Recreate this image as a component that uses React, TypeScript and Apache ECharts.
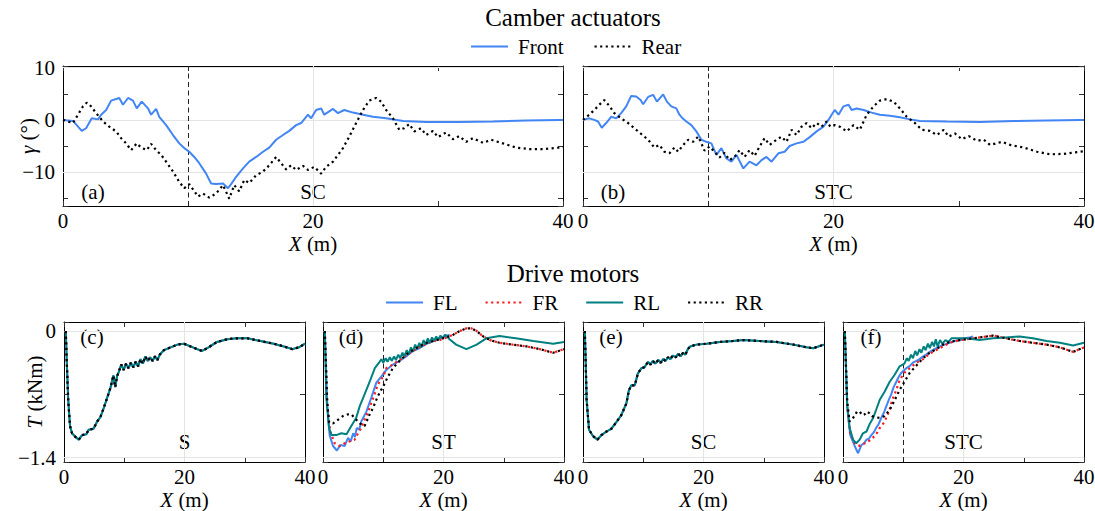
import React, { useEffect, useRef } from 'react';
import * as echarts from 'echarts';

type Pt = [number, number];

// ---------- Camber actuators: camber angle γ (deg) vs. travelled distance X (m)
const camberFrontSC: Pt[] = [
  [0, 0], [0.8, -0.2], [1.5, -2.1], [1.85, -1.6], [2.3, 0.3], [2.8, 0.1], [3.05, 1.0], [3.45, 1.9], [3.85, 3.7],
  [4.25, 4.0], [4.5, 4.2], [4.8, 2.9], [5.2, 4.2], [5.6, 3.7], [5.9, 2.2], [6.3, 3.5], [6.8, 2.2], [7.05, 1.0],
  [7.45, 2.1], [7.7, 0.6], [8.25, -1.0], [8.8, -2.9], [9.3, -4.5], [9.7, -5.4], [10.1, -6.1], [10.5, -7.1],
  [10.9, -8.3], [11.45, -10.3], [11.85, -12.2], [12.25, -12.3], [12.8, -12.2], [13.2, -13.1], [13.45, -12.3],
  [13.85, -10.9], [14.4, -9.3], [14.9, -8.0], [15.45, -7.1], [16.0, -6.1], [16.5, -5.3], [17.05, -3.8],
  [17.6, -2.9], [18.1, -2.1], [18.65, -1.0], [19.05, -0.6], [19.6, 1.0], [19.85, 0.3], [20.25, 1.9], [20.65, 2.2],
  [20.9, 1.0], [21.6, 2.1], [22.0, 1.3], [22.5, 1.9], [23.2, 1.4], [24.0, 1.0], [24.8, 0.6], [25.85, 0.3],
  [27.2, -0.2], [29.05, -0.4], [31.7, -0.4], [34.4, -0.3], [37.05, -0.1], [39.7, 0], [40, 0],
];
const camberRearSC: Pt[] = [
  [0, 0], [0.8, -0.6], [1.2, 1.0], [1.6, 2.6], [1.9, 3.3], [2.25, 2.6], [2.65, 1.3], [3.2, -0.3], [3.7, -1.3],
  [4.25, -2.2], [4.65, -3.5], [5.05, -4.5], [5.45, -5.8], [5.9, -4.5], [6.25, -5.3], [6.7, -5.8], [7.05, -4.6],
  [7.45, -5.8], [7.85, -6.7], [8.25, -8.0], [8.8, -9.9], [9.3, -11.9], [9.7, -13.1], [10.1, -12.3], [10.4, -13.3],
  [10.8, -14.7], [11.2, -14.1], [11.7, -14.9], [12.25, -14.1], [12.8, -12.5], [13.05, -13.8], [13.3, -15.1],
  [13.7, -12.5], [14.1, -13.7], [14.5, -11.5], [14.9, -12.1], [15.45, -10.6], [16.0, -9.9], [16.5, -8.7],
  [17.05, -7.1], [17.45, -8.3], [17.85, -9.5], [18.25, -8.7], [18.65, -9.6], [19.2, -8.8], [19.6, -9.6],
  [20.1, -9.0], [20.65, -10.3], [21.05, -9.0], [21.6, -8.0], [22.0, -6.7], [22.4, -5.4], [22.9, -3.2],
  [23.45, -0.6], [24.0, 1.9], [24.5, 3.7], [25.05, 4.2], [25.45, 3.5], [25.85, 1.9], [26.4, 0.3], [26.9, -1.9],
  [27.3, -1.6], [27.7, -0.8], [28.1, -2.2], [28.65, -1.6], [29.05, -2.9], [29.6, -2.1], [30.0, -3.3],
  [30.65, -2.4], [31.2, -3.7], [31.7, -3.1], [32.25, -4.2], [32.8, -3.5], [33.6, -4.4], [34.25, -3.8],
  [35.2, -4.5], [36.25, -5.3], [37.3, -5.6], [38.4, -5.6], [39.7, -5.3], [40, -5.2],
];
const camberFrontSTC: Pt[] = [
  [0, 0], [0.5, 0.3], [0.9, 0], [1.2, -0.3], [1.5, -1.5], [1.85, -0.6], [2.25, 0.6], [2.65, 0.3], [3.05, 1.3],
  [3.45, 2.6], [3.85, 4.6], [4.25, 4.5], [4.6, 3.8], [4.8, 3.0], [5.2, 4.4], [5.6, 4.8], [5.9, 3.5], [6.4, 4.9],
  [6.7, 3.5], [7.05, 2.6], [7.45, 2.2], [7.7, 1.0], [7.95, 0.3], [8.25, -0.3], [8.65, -1.0], [9.05, -2.2],
  [9.45, -3.8], [9.85, -4.2], [10.25, -4.5], [10.65, -6.7], [11.05, -5.4], [11.45, -7.4], [11.85, -8.0],
  [12.25, -6.7], [12.8, -9.3], [13.3, -8.0], [13.85, -8.7], [14.25, -7.7], [14.65, -7.1], [15.05, -8.0],
  [15.6, -6.4], [16.1, -6.1], [16.5, -5.0], [17.05, -4.5], [17.6, -4.2], [18.1, -3.3], [18.65, -2.2],
  [19.2, -1.3], [19.6, 0], [19.85, 1.0], [20.1, 1.9], [20.4, 1.0], [20.8, 2.6], [21.2, 2.9], [21.45, 1.9],
  [21.85, 2.2], [22.4, 1.9], [23.05, 1.4], [23.7, 1.0], [24.5, 0.8], [25.3, 0.5], [26.1, 0.1], [26.9, -0.2],
  [29.05, -0.3], [31.7, -0.4], [34.4, -0.2], [37.05, -0.1], [39.7, 0], [40, 0],
];
const camberRearSTC: Pt[] = [
  [0, 0], [0.5, 1.0], [0.9, 1.9], [1.3, 2.9], [1.7, 3.8], [2.1, 2.7], [2.5, 1.3], [3.05, 0.3], [3.6, -0.6],
  [4.1, -1.6], [4.65, -2.7], [5.2, -3.8], [5.7, -5.3], [6.1, -4.8], [6.5, -6.1], [6.9, -6.4], [7.3, -5.3],
  [7.6, -6.1], [8.0, -4.8], [8.4, -3.8], [8.8, -4.2], [9.2, -3.2], [9.45, -4.5], [9.7, -5.9], [10.1, -5.1],
  [10.5, -6.1], [10.9, -7.2], [11.3, -6.3], [11.7, -7.7], [12.1, -7.1], [12.5, -5.8], [12.9, -7.1], [13.3, -5.8],
  [13.7, -6.9], [14.1, -5.1], [14.5, -3.5], [14.9, -4.8], [15.45, -3.8], [15.85, -3.2], [16.25, -4.2],
  [16.65, -1.9], [17.05, -2.9], [17.45, -1.3], [17.85, -0.6], [18.25, -1.6], [18.65, -0.6], [19.05, -1.3],
  [19.45, -0.3], [19.75, -1.3], [20.1, -1.0], [20.5, -1.3], [21.05, -2.2], [21.6, -1.0], [22.1, -1.9],
  [22.65, 1.0], [23.2, 2.6], [23.7, 3.7], [24.25, 4.0], [24.8, 3.5], [25.3, 2.2], [25.85, 0.6], [26.5, -0.6],
  [27.05, -1.9], [27.7, -2.1], [28.25, -2.9], [28.8, -1.9], [29.2, -3.2], [29.7, -2.6], [30.25, -3.7],
  [30.8, -3.1], [31.45, -4.0], [32.0, -3.8], [32.5, -4.8], [33.45, -4.2], [34.1, -4.8], [35.2, -5.3],
  [36.25, -6.1], [37.3, -6.6], [38.4, -6.5], [39.7, -6.1], [40, -6.0],
];

// ---------- Drive motors: wheel torque T (kNm) vs. X (m)
// S and SC: the four wheels coincide
const torqueS: Pt[] = [
  [0.3, 0], [0.45, -0.32], [0.7, -0.76], [1.0, -1.05], [1.33, -1.13], [1.9, -1.17], [2.45, -1.2], [3.0, -1.15],
  [3.7, -1.14], [4.1, -1.09], [4.9, -1.08], [5.5, -1.0], [6.05, -0.95], [6.6, -0.85], [7.15, -0.74], [7.7, -0.63],
  [8.2, -0.49], [8.5, -0.62], [8.8, -0.5], [9.1, -0.45], [9.5, -0.37], [9.9, -0.43], [10.3, -0.36], [10.7, -0.41],
  [11.1, -0.35], [11.5, -0.4], [11.9, -0.34], [12.3, -0.39], [12.7, -0.31], [13.1, -0.36], [13.5, -0.28],
  [13.9, -0.33], [14.3, -0.29], [14.7, -0.33], [15.1, -0.28], [15.5, -0.32], [15.9, -0.26], [16.6, -0.21],
  [17.7, -0.18], [18.8, -0.15], [19.9, -0.14], [21.0, -0.17], [22.1, -0.2], [22.9, -0.22], [24.0, -0.18],
  [25.4, -0.12], [27.1, -0.09], [28.7, -0.08], [30.4, -0.08], [32.6, -0.11], [34.8, -0.14], [36.5, -0.17],
  [37.9, -0.2], [39.0, -0.18], [40, -0.14],
];
const torqueSC: Pt[] = [
  [0.3, 0], [0.45, -0.35], [0.6, -0.76], [1.0, -1.09], [1.65, -1.16], [2.4, -1.2], [3.05, -1.15], [3.9, -1.11],
  [4.7, -1.08], [5.5, -1.01], [6.35, -0.93], [7.2, -0.8], [7.6, -0.66], [8.0, -0.6], [8.6, -0.6], [9.1, -0.47],
  [9.7, -0.41], [10.2, -0.4], [10.8, -0.34], [11.2, -0.37], [11.6, -0.33], [12.0, -0.36], [12.5, -0.32],
  [12.9, -0.35], [13.3, -0.31], [13.7, -0.33], [14.1, -0.29], [14.5, -0.31], [14.9, -0.27], [15.4, -0.29],
  [15.8, -0.25], [16.2, -0.28], [16.6, -0.24], [17.0, -0.26], [17.4, -0.2], [17.8, -0.17], [18.8, -0.15],
  [20.5, -0.14], [22.7, -0.12], [24.9, -0.11], [26.6, -0.1], [29.3, -0.11], [32.1, -0.12], [34.9, -0.15],
  [37.1, -0.18], [38.2, -0.19], [40, -0.15],
];
// ST
const torqueST_FL: Pt[] = [
  [0.3, 0], [0.7, -0.81], [1.1, -1.15], [1.66, -1.27], [2.3, -1.32], [2.9, -1.26], [3.6, -1.27], [4.15, -1.18],
  [4.6, -1.22], [5.0, -1.13], [5.3, -1.17], [5.6, -1.07], [6.0, -1.09], [6.35, -1.0], [7.2, -0.89], [8.0, -0.74],
  [8.85, -0.57], [9.7, -0.5], [10.5, -0.43], [11.6, -0.37], [12.7, -0.33], [13.8, -0.28], [14.9, -0.22],
  [16.0, -0.19], [17.2, -0.14], [18.3, -0.11], [19.4, -0.08], [20.2, -0.06], [21.0, -0.04],
];
const torqueST_FR: Pt[] = [
  [0.3, 0], [0.7, -0.81], [1.2, -1.11], [1.94, -1.24], [2.77, -1.27], [3.6, -1.24], [4.4, -1.22], [5.25, -1.2],
  [5.8, -1.13], [6.35, -1.07], [6.9, -0.98], [7.5, -0.89], [8.0, -0.8], [8.6, -0.69], [9.1, -0.59], [10.0, -0.5],
  [10.5, -0.41], [11.6, -0.37], [12.7, -0.32], [13.8, -0.27], [14.9, -0.22], [16.0, -0.18], [17.2, -0.14],
  [18.3, -0.11], [19.4, -0.1], [20.5, -0.07], [21.6, -0.04], [22.7, 0.0], [23.8, 0.03], [24.6, 0.03],
  [25.5, 0.0], [26.6, -0.06], [27.7, -0.1], [29.3, -0.13], [31.5, -0.15], [33.8, -0.17], [36.0, -0.2],
  [38.2, -0.24], [40, -0.2],
];
const torqueST_RL: Pt[] = [
  [0.3, 0], [0.55, -0.74], [1.0, -1.07], [1.4, -1.15], [2.2, -1.15], [3.05, -1.13], [3.9, -1.14], [4.7, -1.05],
  [5.5, -0.96], [6.1, -0.83], [6.9, -0.7], [7.75, -0.56], [8.6, -0.41], [9.3, -0.35], [9.7, -0.31], [10.0, -0.35],
  [10.4, -0.3], [10.7, -0.34], [11.1, -0.29], [11.4, -0.33], [11.8, -0.28], [12.1, -0.32], [12.5, -0.26],
  [12.8, -0.3], [13.2, -0.24], [13.5, -0.28], [13.9, -0.21], [14.2, -0.26], [14.6, -0.18], [14.9, -0.23],
  [15.3, -0.15], [15.6, -0.2], [16.0, -0.13], [16.3, -0.18], [16.7, -0.1], [17.0, -0.15], [17.4, -0.08],
  [17.7, -0.13], [18.1, -0.07], [18.4, -0.11], [18.8, -0.06], [19.1, -0.1], [19.5, -0.05], [19.8, -0.08],
  [20.3, -0.04], [21.0, -0.09], [22.1, -0.15], [23.8, -0.2], [25.5, -0.15], [27.1, -0.08], [29.3, -0.055],
  [32.0, -0.08], [34.9, -0.11], [38.2, -0.14], [40, -0.12],
];
const torqueST_RR: Pt[] = [
  [0.3, 0], [0.7, -0.78], [1.0, -1.01], [1.66, -1.02], [2.5, -0.98], [3.3, -0.94], [4.15, -0.92], [4.7, -0.92],
  [5.25, -0.96], [6.1, -1.02], [6.9, -1.05], [7.75, -0.92], [8.3, -0.85], [9.1, -0.72], [10.0, -0.61],
  [10.8, -0.5], [11.6, -0.41], [12.7, -0.33], [13.8, -0.26], [14.9, -0.21], [16.0, -0.17], [17.2, -0.13],
  [18.3, -0.11], [19.4, -0.09], [20.5, -0.07], [21.6, -0.04], [22.7, 0.0], [23.8, 0.03], [24.6, 0.03],
  [25.5, 0.0], [26.6, -0.06], [27.7, -0.1], [29.3, -0.13], [31.5, -0.15], [33.8, -0.17], [36.0, -0.2],
  [38.2, -0.24], [40, -0.2],
];
// STC
const torqueSTC_FL: Pt[] = [
  [0.3, 0], [0.7, -0.85], [1.2, -1.15], [1.94, -1.27], [2.5, -1.35], [3.05, -1.26], [3.5, -1.24], [3.9, -1.2],
  [4.3, -1.19], [4.7, -1.15], [5.1, -1.12], [5.5, -1.07], [5.9, -1.03], [6.35, -0.96], [6.8, -0.9], [7.2, -0.83],
  [7.6, -0.76], [8.0, -0.7], [8.4, -0.62], [8.85, -0.56], [9.3, -0.5], [9.7, -0.46], [10.5, -0.41], [11.0, -0.39],
  [11.6, -0.35], [12.2, -0.33], [12.7, -0.31], [13.3, -0.28], [13.8, -0.26], [14.4, -0.23], [14.9, -0.21],
  [16.0, -0.17], [16.8, -0.15], [17.7, -0.13], [18.5, -0.11], [19.4, -0.1], [20.2, -0.08], [21.0, -0.07],
  [21.6, -0.06],
];
const torqueSTC_FR: Pt[] = [
  [0.3, 0], [0.7, -0.83], [1.2, -1.13], [1.94, -1.24], [2.77, -1.27], [3.6, -1.24], [4.4, -1.21], [5.25, -1.16],
  [5.7, -1.12], [6.1, -1.07], [6.5, -1.04], [6.9, -1.0], [7.3, -0.94], [7.75, -0.87], [8.0, -0.8], [8.3, -0.74],
  [8.85, -0.65], [9.4, -0.54], [10.2, -0.46], [11.1, -0.41], [12.2, -0.35], [13.3, -0.31], [14.4, -0.25],
  [15.5, -0.21], [16.6, -0.17], [17.7, -0.13], [19.4, -0.1], [21.6, -0.08], [23.8, -0.06], [24.9, -0.05],
  [27.1, -0.08], [29.3, -0.11], [31.5, -0.13], [33.8, -0.15], [36.0, -0.18], [38.2, -0.23], [40, -0.18],
];
const torqueSTC_RL: Pt[] = [
  [0.3, 0], [0.7, -0.81], [1.1, -1.07], [1.66, -1.2], [2.2, -1.24], [2.77, -1.2], [3.3, -1.13], [3.9, -1.11],
  [4.4, -1.03], [5.0, -0.96], [5.5, -0.87], [6.1, -0.76], [6.9, -0.67], [7.75, -0.56], [8.6, -0.48], [9.4, -0.39],
  [10.2, -0.36], [10.6, -0.3], [10.9, -0.33], [11.3, -0.26], [11.6, -0.3], [12.0, -0.22], [12.3, -0.27],
  [12.7, -0.2], [13.0, -0.24], [13.4, -0.17], [13.7, -0.21], [14.1, -0.14], [14.4, -0.19], [14.8, -0.12],
  [15.1, -0.17], [15.4, -0.09], [15.7, -0.17], [16.1, -0.1], [16.5, -0.14], [17.0, -0.1], [17.5, -0.12],
  [18.0, -0.08], [18.8, -0.08], [20.5, -0.08], [22.7, -0.1], [24.9, -0.08], [27.1, -0.07], [29.3, -0.06],
  [31.5, -0.08], [33.8, -0.11], [36.0, -0.13], [38.2, -0.16], [40, -0.13],
];
const torqueSTC_RR: Pt[] = [
  [0.3, 0], [0.7, -0.78], [1.1, -1.0], [1.5, -0.97], [1.94, -0.94], [2.3, -0.89], [2.77, -0.89], [3.2, -0.93],
  [3.6, -0.92], [4.0, -0.89], [4.4, -0.91], [4.8, -0.94], [5.25, -0.95], [6.1, -0.96], [6.9, -0.94],
  [7.75, -0.87], [8.6, -0.76], [9.4, -0.65], [10.2, -0.56], [11.1, -0.46], [12.2, -0.38], [13.3, -0.3],
  [14.4, -0.24], [15.5, -0.2], [16.6, -0.15], [17.7, -0.12], [19.4, -0.1], [21.6, -0.08], [23.8, -0.06],
  [24.9, -0.05], [27.1, -0.08], [29.3, -0.11], [31.5, -0.13], [33.8, -0.15], [36.0, -0.18], [38.2, -0.23],
  [40, -0.18],
];

// ---------- Axes
const xTickLabels = [0, 20, 40];
const camberTickLabels = [10, 0, -10];
const torqueTickLabels = [0, -1.4];
const camberRange = [-16.5, 10.33];
const torqueRange = [-1.447, 0.1];
const manoeuvreX = 10;

// ---------- Look
const FONT = 'Liberation Serif';
const FS = 21;
const BLUE = '#4285f4';
const RED = '#ff1a1a';
const TEAL = '#008080';
const BLACK = '#000000';

const W = 1095;
const H = 511;

interface Panel { left: number; top: number; width: number; height: number }
const panels: Panel[] = [
  { left: 63, top: 66, width: 500, height: 140 },
  { left: 583, top: 66, width: 501, height: 140 },
  { left: 64, top: 322, width: 241, height: 140 },
  { left: 323, top: 322, width: 241, height: 140 },
  { left: 583, top: 322, width: 241, height: 140 },
  { left: 843, top: 322, width: 241, height: 140 },
];
const panelTags = ['(a)', '(b)', '(c)', '(d)', '(e)', '(f)'];
const caseNames = ['SC', 'STC', 'S', 'ST', 'SC', 'STC'];

const minus = (v: number) => (v < 0 ? '\u2212' + String(Math.abs(v)) : String(v));
const labelIf = (list: number[]) => (v: number) =>
  list.some((t) => Math.abs(t - v) < 1e-6) ? minus(Math.round(v * 10) / 10) : '';

const textStyleBase = { color: '#000', fontFamily: FONT, fontSize: FS };
const tickStyle = { color: '#333', width: 1 };
const frameStyle = { color: '#000', width: 1 };

function xAxesFor(gi: number) {
  const common = {
    type: 'value', gridIndex: gi, min: 0, max: 40, interval: 20,
    axisLine: { show: true, onZero: false, lineStyle: frameStyle },
    axisTick: { show: true, inside: true, length: 5, lineStyle: tickStyle },
    minorTick: { show: true, splitNumber: 2, length: 5, lineStyle: tickStyle },
    splitLine: { show: false },
  };
  return [
    {
      ...common, position: 'bottom',
      axisLabel: { show: true, margin: 4, ...textStyleBase, formatter: labelIf(xTickLabels) },
      name: '{i|X} (m)', nameLocation: 'middle', nameGap: 27, nameMoveOverlap: false,
      nameTextStyle: { ...textStyleBase, rich: { i: { ...textStyleBase, fontStyle: 'italic' } } },
    },
    { ...common, position: 'top', axisLabel: { show: false } },
  ];
}

function yAxesFor(gi: number, isCamber: boolean, withLabels: boolean) {
  const range = isCamber ? camberRange : torqueRange;
  const step = isCamber ? 5 : 0.7;
  const common = {
    type: 'value', gridIndex: gi, min: range[0], max: range[1],
    minInterval: step, maxInterval: step, splitNumber: 5,
    axisLine: { show: true, onZero: false, lineStyle: frameStyle },
    axisTick: { show: true, inside: true, length: 5, lineStyle: tickStyle },
    splitLine: { show: false },
  };
  const left: any = {
    ...common, position: 'left',
    axisLabel: withLabels
      ? { show: true, margin: 8, ...textStyleBase, formatter: labelIf(isCamber ? camberTickLabels : torqueTickLabels) }
      : { show: false },
  };
  if (withLabels) {
    left.name = isCamber ? '{i|\u03b3} (\u00b0)' : '{i|T} (kNm)';
    left.nameLocation = 'middle';
    left.nameGap = isCamber ? 25 : 19;
    left.nameMoveOverlap = false;
    left.nameTextStyle = { ...textStyleBase, rich: { i: { ...textStyleBase, fontStyle: 'italic' } } };
  }
  return [left, { ...common, position: 'right', axisLabel: { show: false } }];
}

function panelLines(isCamber: boolean, dashed: boolean) {
  const ys = isCamber ? camberTickLabels : torqueTickLabels;
  const data: any[] = [...ys.map((y) => ({ yAxis: y })), { xAxis: 20 }];
  if (dashed) data.push({ xAxis: manoeuvreX, lineStyle: { color: '#222', type: [5, 3.5], width: 1 } });
  return {
    silent: true, z: 1, symbol: ['none', 'none'], animation: false,
    label: { show: false }, emphasis: { disabled: true },
    lineStyle: { color: '#e4e4e4', width: 1, type: 'solid' },
    data,
  };
}

const solid = (color: string) => ({ color, width: 2, type: 'solid' as const });
const dotted = (color: string) => ({ color, width: 2.2, type: [2.2, 3.4], cap: 'butt' as const });

function line(name: string, data: Pt[], gi: number, style: any, markLine?: any) {
  return {
    type: 'line', name, data, xAxisIndex: 2 * gi, yAxisIndex: 2 * gi,
    symbol: 'none', showSymbol: false, silent: true, color: style.color,
    lineStyle: style, emphasis: { disabled: true },
    ...(markLine ? { markLine } : {}),
  };
}

function buildOption() {
  const camberSets = [
    { front: camberFrontSC, rear: camberRearSC },
    { front: camberFrontSTC, rear: camberRearSTC },
  ];
  const torqueSets = [
    { fl: torqueS, fr: torqueS, rl: torqueS, rr: torqueS, dashed: false },
    { fl: torqueST_FL, fr: torqueST_FR, rl: torqueST_RL, rr: torqueST_RR, dashed: true },
    { fl: torqueSC, fr: torqueSC, rl: torqueSC, rr: torqueSC, dashed: false },
    { fl: torqueSTC_FL, fr: torqueSTC_FR, rl: torqueSTC_RL, rr: torqueSTC_RR, dashed: true },
  ];

  const xAxis: any[] = [];
  const yAxis: any[] = [];
  const series: any[] = [];

  panels.forEach((_, gi) => {
    const isCamber = gi < 2;
    xAxis.push(...xAxesFor(gi));
    yAxis.push(...yAxesFor(gi, isCamber, gi === 0 || gi === 2));
  });

  camberSets.forEach((s, gi) => {
    series.push(line('Front', s.front, gi, solid(BLUE), panelLines(true, true)));
    series.push(line('Rear', s.rear, gi, dotted(BLACK)));
  });
  torqueSets.forEach((s, k) => {
    const gi = k + 2;
    series.push(line('FL', s.fl, gi, solid(BLUE), panelLines(false, s.dashed)));
    series.push(line('FR', s.fr, gi, dotted(RED)));
    series.push(line('RL', s.rl, gi, solid(TEAL)));
    series.push(line('RR', s.rr, gi, dotted(BLACK)));
  });

  const annotations: any[] = [];
  panels.forEach((p, gi) => {
    const top = gi < 2;
    const common = { fill: '#000', fontFamily: FONT, fontSize: FS, align: 'center', verticalAlign: 'middle' };
    annotations.push({
      type: 'text', silent: true,
      x: p.left + (top ? 30 : 28), y: top ? p.top + p.height - 14 : p.top + 15,
      style: { text: panelTags[gi], ...common },
    });
    annotations.push({
      type: 'text', silent: true,
      x: p.left + p.width / 2, y: top ? p.top + p.height - 14 : p.top + p.height - 20,
      style: { text: caseNames[gi], ...common },
    });
  });

  const legendCommon = {
    orient: 'horizontal', itemWidth: 37, itemHeight: 14, selectedMode: false,
    itemStyle: { opacity: 0, borderWidth: 0 },
    textStyle: { ...textStyleBase, padding: [0, 0, 0, 5] },
  };

  return {
    animation: false,
    backgroundColor: '#fff',
    textStyle: { fontFamily: FONT },
    title: [
      { text: 'Camber actuators', left: 573, top: 5, textAlign: 'center', padding: 0,
        textStyle: { ...textStyleBase, fontSize: 25, fontWeight: 'normal' } },
      { text: 'Drive motors', left: 573, top: 261, textAlign: 'center', padding: 0,
        textStyle: { ...textStyleBase, fontSize: 25, fontWeight: 'normal' } },
    ],
    legend: [
      { ...legendCommon, data: ['Front', 'Rear'], left: 470, top: 36, itemGap: 30, padding: 0 },
      { ...legendCommon, data: ['FL', 'FR', 'RL', 'RR'], left: 385, top: 292, itemGap: 27, padding: 0 },
    ],
    grid: panels.map((p) => ({ ...p, containLabel: false, outerBoundsMode: 'none', show: false })),
    xAxis,
    yAxis,
    series,
    graphic: annotations,
  };
}

export default function App() {
  const ref = useRef<HTMLDivElement>(null);
  useEffect(() => {
    if (!ref.current) return;
    const chart = echarts.init(ref.current, null, { renderer: 'svg' });
    chart.setOption(buildOption() as any);
    return () => chart.dispose();
  }, []);
  return (
    <div
      ref={ref}
      style={{ position: 'absolute', left: 0, top: 0, width: W, height: H, background: '#fff' }}
    />
  );
}
